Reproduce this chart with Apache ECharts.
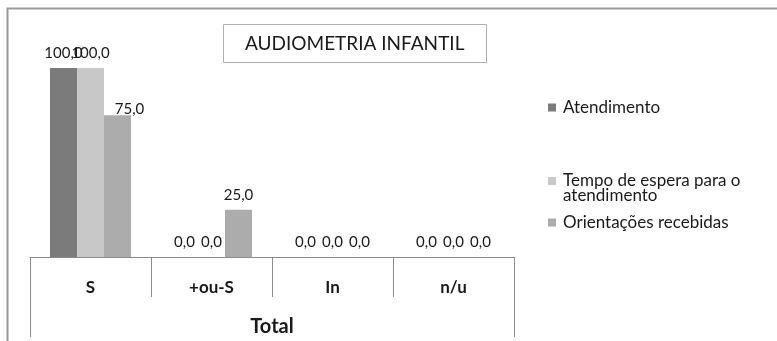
<!DOCTYPE html>
<html>
<head>
<meta charset="utf-8">
<script src="https://cdn.jsdelivr.net/npm/echarts@6/dist/echarts.min.js"></script>
<style>html,body{margin:0;padding:0;background:#fff;}#c{width:777px;height:341px;}</style>
</head>
<body>
<div id="c"></div>
<script>
var categories = ['S', '+ou-S', 'In', 'n/u'];
var groupLabel = ['Total'];
var seriesNames = ['Atendimento', 'Tempo de espera para o atendimento', 'Orientações recebidas'];
var atendimento = [100.0, 0.0, 0.0, 0.0];
var tempoEspera = [100.0, 0.0, 0.0, 0.0];
var orientacoes = [75.0, 25.0, 0.0, 0.0];
var colors = ['#7b7b7b', '#c8c8c8', '#acacac'];
var titleText = 'AUDIOMETRIA INFANTIL';

var FONT = 'Lato';
var chart = echarts.init(document.getElementById('c'), null, {renderer: 'canvas'});

function fmt(p) { return p.value.toFixed(1).replace('.', ','); }

var values = [atendimento, tempoEspera, orientacoes];
var series = values.map(function (arr, i) {
  var data = arr.map(function (v, j) {
    // the reference nudges the "75,0" label sideways to avoid overlapping
    if (i === 2 && j === 0) return {value: v, label: {offset: [12, 8]}};
    return v;
  });
  return {
    name: seriesNames[i],
    type: 'bar',
    data: data,
    barGap: '0%',
    barCategoryGap: '33%',
    itemStyle: {color: colors[i]},
    label: {
      show: true, position: 'top', distance: 7,
      formatter: fmt,
      fontFamily: FONT, fontSize: 15, color: '#1a1a1a'
    }
  };
});

var legendTops = [99, 158, 214];
var legends = seriesNames.map(function (n, i) {
  return {
    data: [n],
    left: 548,
    top: legendTops[i],
    orient: 'vertical',
    padding: 0,
    itemWidth: 8,
    itemHeight: 8,
    icon: 'rect',
    selectedMode: false,
    formatter: i === 1 ? function () { return '\nTempo de espera para o\natendimento'; } : '{name}',
    textStyle: {
      fontFamily: FONT, fontSize: 17, color: '#1a1a1a',
      lineHeight: i === 1 ? 14.5 : 17,
      padding: [0, 0, 0, 2]
    }
  };
});

chart.setOption({
  animation: false,
  backgroundColor: '#ffffff',
  title: {
    text: titleText,
    left: 223, top: 24,
    padding: [10, 22, 10, 22],
    borderColor: '#b0b0b0', borderWidth: 1,
    textStyle: {fontFamily: FONT, fontSize: 19, fontWeight: 'normal', color: '#1a1a1a', lineHeight: 19}
  },
  legend: legends,
  graphic: [{
    type: 'rect',
    shape: {x: 7.5, y: 8.5, width: 900, height: 500},
    style: {fill: null, stroke: '#9a9a9a', lineWidth: 2},
    silent: true, z: -10
  }],
  grid: {left: 30, right: 263, top: 68, bottom: 84, containLabel: false},
  xAxis: [{
    type: 'category',
    data: categories,
    position: 'bottom',
    axisLine: {show: true, lineStyle: {color: '#8c8c8c', width: 1}},
    axisTick: {show: true, interval: 0, length: 40, lineStyle: {color: '#8c8c8c'}},
    axisLabel: {interval: 0, margin: 22, fontFamily: FONT, fontSize: 17, fontWeight: 'bold', color: '#1a1a1a'}
  }, {
    type: 'category',
    data: groupLabel,
    position: 'bottom',
    axisLine: {show: false},
    axisTick: {show: true, length: 80, lineStyle: {color: '#8c8c8c'}},
    axisLabel: {margin: 60, fontFamily: FONT, fontSize: 20, fontWeight: 'bold', color: '#1a1a1a'}
  }],
  yAxis: {
    type: 'value', min: 0, max: 100, show: false,
    splitLine: {show: false}
  },
  series: series
});
</script>
</body>
</html>
